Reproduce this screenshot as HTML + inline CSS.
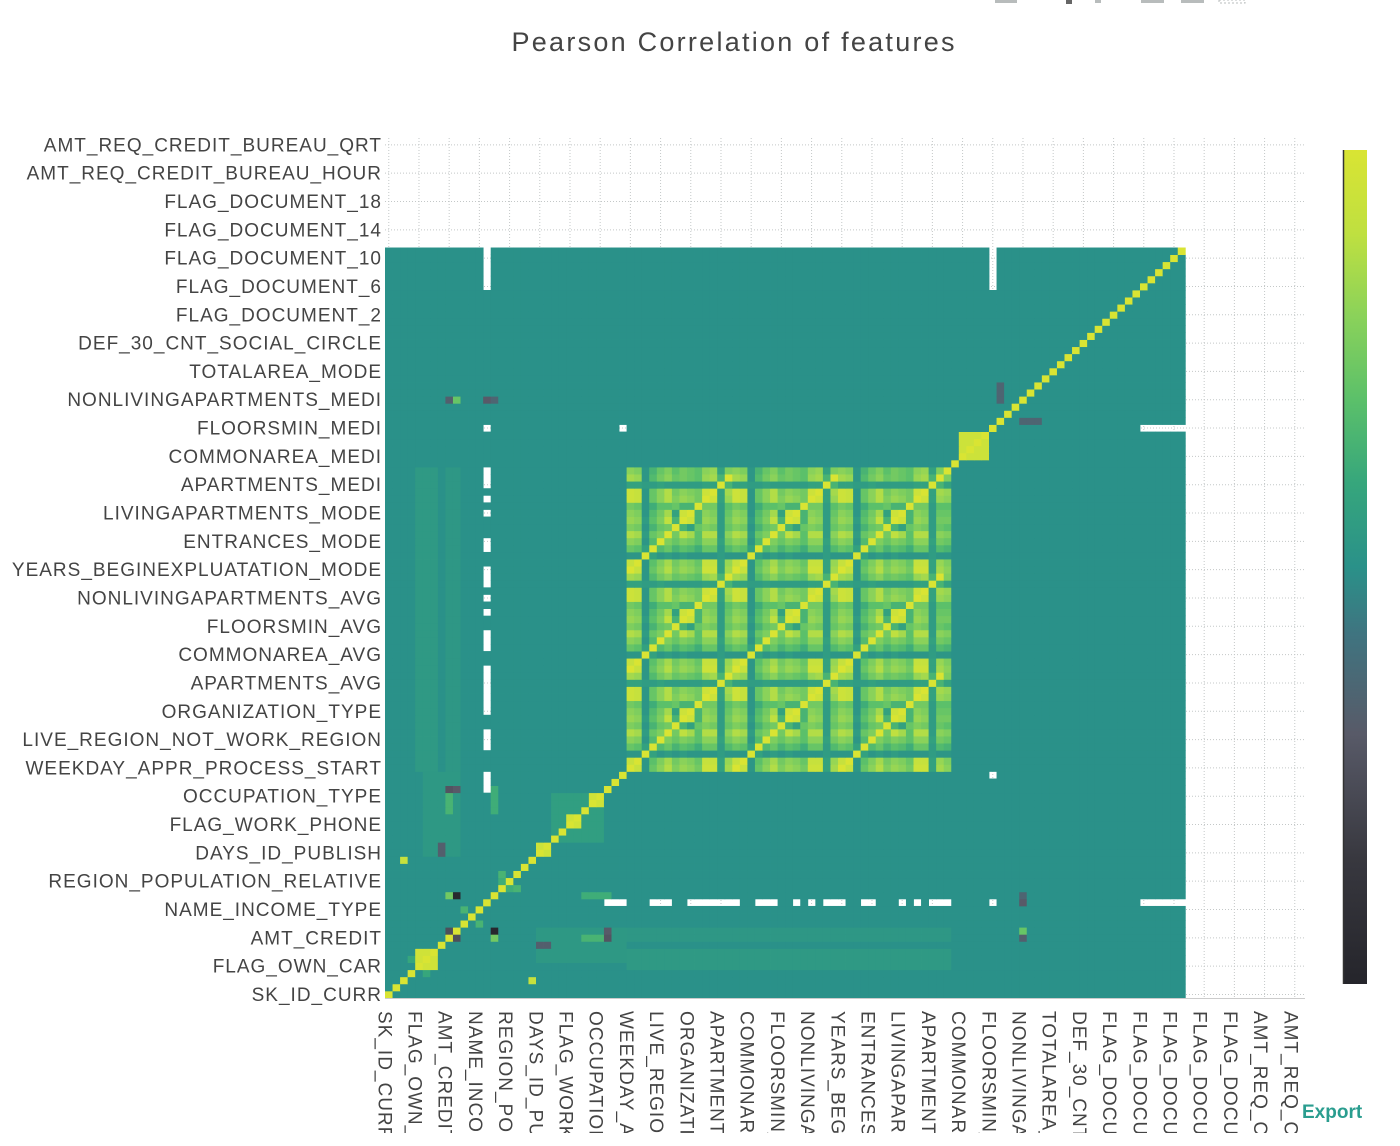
<!DOCTYPE html>
<html><head><meta charset="utf-8"><title>Pearson Correlation of features</title>
<style>
html,body{margin:0;padding:0;background:#fff;overflow:hidden;width:1400px;height:1146px;}
svg{display:block;font-family:"Liberation Sans",sans-serif;}
</style></head>
<body>
<svg id="chart" width="1400" height="1146" viewBox="0 0 1400 1146" xmlns="http://www.w3.org/2000/svg">
  <defs>
    <linearGradient id="cbgrad" x1="0" y1="1" x2="0" y2="0">
      <stop offset="0" stop-color="#25252b"/>
      <stop offset="0.15" stop-color="#38383f"/>
      <stop offset="0.30" stop-color="#585a68"/>
      <stop offset="0.42" stop-color="#3f7480"/>
      <stop offset="0.50" stop-color="#2a9189"/>
      <stop offset="0.60" stop-color="#36a67c"/>
      <stop offset="0.70" stop-color="#5bc06a"/>
      <stop offset="0.80" stop-color="#8ad25a"/>
      <stop offset="0.90" stop-color="#bfe040"/>
      <stop offset="1" stop-color="#d9e433"/>
    </linearGradient>
    <clipPath id="xclip"><rect x="360" y="1000" width="960" height="133"/></clipPath>
  </defs>
  <g fill="#b8bcbc">
    <rect x="995" y="0" width="22" height="3"/>
    <rect x="1066" y="0" width="6" height="4" fill="#666"/>
    <rect x="1095" y="0" width="6" height="3"/>
    <rect x="1141" y="0" width="23" height="3"/>
    <rect x="1181" y="0" width="23" height="3"/>
    <rect x="1219" y="0" width="26" height="3" fill="none" stroke="#b8bcbc" stroke-dasharray="2,2"/>
  </g>
  <text x="733" y="51" text-anchor="middle" font-size="27" fill="#444" textLength="443">Pearson Correlation of features</text>
  <g id="grid"></g>
  <g id="cells"></g>
  <g id="ylabels"></g>
  <g id="xlabels" clip-path="url(#xclip)"></g>
  <line x1="385" y1="998.5" x2="1305" y2="998.5" stroke="#ccc" stroke-width="1"/>
  <g>
    <rect x="1343" y="150" width="24" height="834" fill="url(#cbgrad)"/>
    <line x1="1343.5" y1="150" x2="1343.5" y2="984" stroke="#333" stroke-width="1.5"/>
  </g>
  <text x="1302" y="1118" font-size="19" font-weight="bold" fill="#2a9d8f">Export</text>
</svg>
<script>
// ---- data ----
const tickLabels = ["SK_ID_CURR","FLAG_OWN_CAR","AMT_CREDIT","NAME_INCOME_TYPE","REGION_POPULATION_RELATIVE","DAYS_ID_PUBLISH","FLAG_WORK_PHONE","OCCUPATION_TYPE","WEEKDAY_APPR_PROCESS_START","LIVE_REGION_NOT_WORK_REGION","ORGANIZATION_TYPE","APARTMENTS_AVG","COMMONAREA_AVG","FLOORSMIN_AVG","NONLIVINGAPARTMENTS_AVG","YEARS_BEGINEXPLUATATION_MODE","ENTRANCES_MODE","LIVINGAPARTMENTS_MODE","APARTMENTS_MEDI","COMMONAREA_MEDI","FLOORSMIN_MEDI","NONLIVINGAPARTMENTS_MEDI","TOTALAREA_MODE","DEF_30_CNT_SOCIAL_CIRCLE","FLAG_DOCUMENT_2","FLAG_DOCUMENT_6","FLAG_DOCUMENT_10","FLAG_DOCUMENT_14","FLAG_DOCUMENT_18","AMT_REQ_CREDIT_BUREAU_HOUR","AMT_REQ_CREDIT_BUREAU_QRT"];
const tickStep = 4;
const nFeatures = 121;
const nData = 106;
// correlated blocks along diagonal: [start, end, value]
const diagBlocks = [[22,28,0.12],[4,6,0.92],[20,21,0.9],[24,25,0.92],[27,28,0.92],[76,79,0.9]];
// building feature groups (AVG, MODE, MEDI)
const bldStarts = [32,46,60];
const bldPattern = [
 [1,.85,.05,.45,.6,.75,.55,.65,.6,.5,.9,.9,.15,.7],
 [.85,1,.05,.4,.55,.7,.5,.6,.55,.45,.85,.85,.15,.65],
 [.05,.05,1,.15,.05,.1,.05,.1,.05,.05,.05,.05,.1,.05],
 [.45,.4,.15,1,.35,.45,.3,.4,.35,.25,.45,.45,.1,.35],
 [.6,.55,.05,.35,1,.55,.45,.55,.5,.4,.6,.6,.15,.5],
 [.75,.7,.1,.45,.55,1,.5,.8,.7,.4,.75,.75,.1,.6],
 [.55,.5,.05,.3,.45,.5,1,.3,.15,.45,.55,.5,.1,.45],
 [.65,.6,.1,.4,.55,.8,.3,1,.9,.3,.65,.6,.1,.5],
 [.6,.55,.05,.35,.5,.7,.15,.9,1,.3,.6,.55,.1,.45],
 [.5,.45,.05,.25,.4,.4,.45,.3,.3,1,.5,.5,.1,.4],
 [.9,.85,.05,.45,.6,.75,.55,.65,.6,.5,1,.9,.15,.65],
 [.9,.85,.05,.45,.6,.75,.5,.6,.55,.5,.9,1,.15,.7],
 [.15,.15,.1,.1,.15,.1,.1,.1,.1,.1,.15,.15,1,.3],
 [.7,.65,.05,.35,.5,.6,.45,.5,.45,.4,.65,.7,.3,1]
];
const bldExtraIndex = 74;
const bldExtra = [.6,.55,.05,.3,.45,.55,.4,.5,.45,.4,.6,.65,.15,.55];
// rectangular bands: [rowStart,rowEnd,colStart,colEnd,value] (mirrored)
const bands = [
 [32,74,4,6,0.07],[32,74,8,9,0.06],[4,6,32,74,0.08],[5,9,20,31,0.07],
 [26,29,8,8,0.3],[26,29,14,14,0.25],[16,17,15,15,0.3],[15,15,16,16,0.25]
];
// individual pairs [i,j,value] (mirrored)
const pairs = [
 [9,14,-0.95],[8,14,0.5],[8,9,-0.5],[8,29,-0.45],[9,29,0.4],[7,20,-0.35],[7,21,-0.35],
 [29,9,-0.4],[2,19,0.85],[81,84,-0.3],[81,85,-0.3],[81,86,-0.3],
 [84,13,-0.4],[84,9,0.4],[14,84,-0.3],[8,84,-0.35],[9,84,0.45],[10,12,0.3],[3,5,0.2]
];
// features with missing correlations against partner features
const nanFeatureA = 13;
const nanPartnersA = [29,30,31,35,36,37,40,41,42,43,44,45,46,49,50,51,54,56,58,59,60,63,64,68,70,72,73,74,80,100,101,102,103,104,105];
const nanFeatureB = 80;
const nanPartnersB = [13,31,100,101,102,103,104,105];

// ---- axes ----
const X0 = 385, X1 = 385 + nFeatures*7.55;
const Y0 = 998, Y1 = 998 - nFeatures*7.08;
function xPos(i){ return X0 + (X1 - X0) * i / nFeatures; }
function yPos(i){ return Y0 - (Y0 - Y1) * (i + 1) / nFeatures; }
const cw = (X1 - X0) / nFeatures, ch = (Y0 - Y1) / nFeatures;

const stops = [[0,[37,37,43]],[0.15,[56,56,63]],[0.30,[88,90,104]],[0.42,[63,116,128]],[0.5,[42,145,137]],[0.6,[54,166,124]],[0.7,[91,192,106]],[0.8,[138,210,90]],[0.9,[191,224,64]],[1,[217,228,51]]];
function color(z){
  let t = Math.max(0, Math.min(1, (z + 1) / 2));
  for (let k = 1; k < stops.length; k++){
    if (t <= stops[k][0]){
      const a = stops[k-1], b = stops[k];
      const f = (t - a[0]) / (b[0] - a[0]);
      const c = a[1].map((v, m) => Math.round(v + (b[1][m] - v) * f));
      return "rgb(" + c.join(",") + ")";
    }
  }
  return "rgb(217,228,51)";
}

// ---- build matrix ----
const M = [];
for (let i = 0; i < nData; i++){ M.push(new Array(nData).fill(0)); }
function setSym(i, j, v){ if (i < nData && j < nData){ M[i][j] = v; M[j][i] = v; } }
bands.forEach(b => { for (let r = b[0]; r <= b[1]; r++) for (let c = b[2]; c <= b[3]; c++) setSym(r, c, b[4]); });
diagBlocks.forEach(b => { for (let r = b[0]; r <= b[1]; r++) for (let c = b[0]; c <= b[1]; c++) setSym(r, c, b[2]); });
bldStarts.forEach(sa => bldStarts.forEach(sb => {
  for (let r = 0; r < 14; r++) for (let c = 0; c < 14; c++) M[sa + r][sb + c] = bldPattern[r][c];
}));
bldStarts.forEach(s => { for (let c = 0; c < 14; c++) setSym(bldExtraIndex, s + c, bldExtra[c]); });
pairs.forEach(p => setSym(p[0], p[1], p[2]));
for (let i = 0; i < nData; i++) M[i][i] = 1;
nanPartnersA.forEach(j => setSym(nanFeatureA, j, null));
nanPartnersB.forEach(j => setSym(nanFeatureB, j, null));

const NS = "http://www.w3.org/2000/svg";
// ---- grid ----
const grid = document.getElementById("grid");
for (let k = 0; k < tickLabels.length; k++){
  const idx = k * tickStep;
  const gx = xPos(idx) + cw / 2, gy = yPos(idx) + ch / 2;
  const vl = document.createElementNS(NS, "line");
  vl.setAttribute("x1", gx); vl.setAttribute("x2", gx); vl.setAttribute("y1", 138); vl.setAttribute("y2", 998);
  vl.setAttribute("stroke", "#c4c8c8"); vl.setAttribute("stroke-dasharray", "1,2");
  
  
  grid.appendChild(vl);
  const hl = document.createElementNS(NS, "line");
  hl.setAttribute("x1", 385); hl.setAttribute("x2", 1305); hl.setAttribute("y1", gy); hl.setAttribute("y2", gy);
  hl.setAttribute("stroke", "#c4c8c8"); hl.setAttribute("stroke-dasharray", "1,2");
  
  
  grid.appendChild(hl);
}
// ---- cells ----
const cells = document.getElementById("cells");
for (let r = 0; r < nData; r++){
  for (let c = 0; c < nData; c++){
    const v = M[r][c];
    if (v === null) continue;
    const rc = document.createElementNS(NS, "rect");
    rc.setAttribute("x", xPos(c).toFixed(2));
    rc.setAttribute("y", yPos(r).toFixed(2));
    rc.setAttribute("width", (cw + 0.4).toFixed(2));
    rc.setAttribute("height", (ch + 0.4).toFixed(2));
    rc.setAttribute("fill", color(v));
    
    
    cells.appendChild(rc);
  }
}
// ---- labels ----
const yl = document.getElementById("ylabels"), xl = document.getElementById("xlabels");
tickLabels.forEach((lab, k) => {
  const idx = k * tickStep;
  const t = document.createElementNS(NS, "text");
  t.setAttribute("x", 382);
  t.setAttribute("y", (yPos(idx) + ch / 2 + 6.5).toFixed(2));
  t.setAttribute("text-anchor", "end");
  t.setAttribute("font-size", "19");
  t.setAttribute("letter-spacing", "1");
  t.setAttribute("fill", "#444");
  t.textContent = lab;
  
  
  yl.appendChild(t);
  const tx = document.createElementNS(NS, "text");
  const cx = xPos(idx) + cw / 2 - 10.5;
  tx.setAttribute("transform", "translate(" + cx.toFixed(2) + ",1011) rotate(90)");
  tx.setAttribute("font-size", "19");
  tx.setAttribute("letter-spacing", "1");
  tx.setAttribute("fill", "#444");
  tx.textContent = lab;
  
  
  xl.appendChild(tx);
});
</script>
</body></html>
